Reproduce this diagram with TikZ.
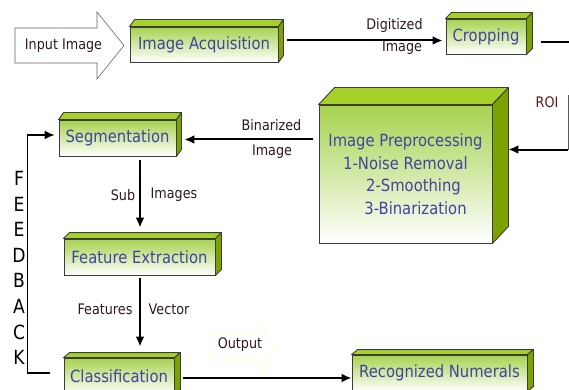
\documentclass[tikz,border=0pt]{standalone}
\usepackage{fontspec}
\setmainfont{DejaVu Sans}[FakeStretch=0.88]
\usetikzlibrary{arrows.meta,calc}

\definecolor{frontgreen}{RGB}{166,210,78}
\definecolor{topgreen}{RGB}{166,209,43}
\definecolor{sidegreen}{RGB}{122,162,0}
\definecolor{edgegray}{RGB}{60,60,60}
\definecolor{boxtext}{RGB}{66,66,160}
\definecolor{labeltext}{RGB}{45,25,30}
\definecolor{roitext}{RGB}{95,25,25}
\definecolor{pale}{RGB}{255,255,200}

\tikzset{
  box3d/.style={draw=edgegray, line width=0.9pt, top color=frontgreen, bottom color=white,
    text=boxtext, font=\fontsize{16.8}{20}\selectfont, inner sep=0pt},
  topface/.style={fill=topgreen, draw=edgegray, line width=0.9pt, line join=round},
  sideface/.style={fill=sidegreen, draw=edgegray, line width=0.9pt, line join=round},
  flow/.style={draw=black, line width=2pt, -{Latex[length=10pt,width=9pt]}},
  fb/.style={draw=black, line width=1.5pt, -{Latex[length=10pt,width=9pt]}},
  lbl/.style={text=labeltext, font=\fontsize{14.5}{17}\selectfont, inner sep=0pt},
  bigarrow/.style={fill=white, line width=0.6pt},
}

% top and right faces of a block node: #1 node, #2 depth to the right, #3 depth upwards
\newcommand\cubefaces[3]{%
  \draw[topface] (#1.north west) -- ++(#2,-#3) -- ($(#1.north east)+(#2,-#3)$) -- (#1.north east) -- cycle;
  \draw[sideface] (#1.north east) -- ++(#2,-#3) -- ($(#1.south east)+(#2,-#3)$) -- (#1.south east) -- cycle;
}

\begin{document}
\begin{tikzpicture}[x=1pt, y=-1pt]
\useasboundingbox (0,0) rectangle (569,390);
\clip (0,0) rectangle (569,390);
\fill[white] (0,0) rectangle (569,390);

% input arrow
\draw[bigarrow, draw=gray!80!black] (15,28) -- (97,28) -- (97,12) -- (124,45.5) -- (97,79) -- (97,63) -- (15,63) -- cycle;
\node[lbl] (inp) at (63.5,45.5) {Input Image};

% output arrow
\draw[bigarrow, draw=pale] (210,334) -- (260,334) -- (260,322) -- (276,347) -- (260,372) -- (260,360) -- (210,360) -- cycle;
\node[lbl] (outp) at (240,345) {Output};

% processing blocks
\node[box3d, minimum width=148pt, minimum height=35pt] (acq) at (204,44.5) {Image Acquisition};
\node[box3d, minimum width=80pt, minimum height=35pt] (crop) at (486,36.5) {Cropping};
\node[box3d, minimum width=173pt, minimum height=138pt, align=center,
      font=\fontsize{16.8}{22.5}\selectfont] (prep) at (405.5,174)
  {Image Preprocessing\\1-Noise Removal\\\hspace*{16pt}2-Smoothing\\\hspace*{20pt}3-Binarization};
\node[box3d, minimum width=117pt, minimum height=36pt] (seg) at (117.5,138) {Segmentation};
\node[box3d, minimum width=151pt, minimum height=36pt] (feat) at (139.5,257) {Feature Extraction};
\node[box3d, minimum width=110pt, minimum height=36pt] (cls) at (119,376) {Classification};
\node[box3d, minimum width=175pt, minimum height=36pt] (rec) at (439.5,373) {Recognized Numerals};

\cubefaces{acq}{5}{7}
\cubefaces{crop}{6}{6}
\cubefaces{prep}{16}{17}
\cubefaces{seg}{5}{7}
\cubefaces{feat}{6}{6}
\cubefaces{cls}{6}{5}
\cubefaces{rec}{6}{5}

% connectors
\draw[flow] ([xshift=9pt,yshift=4pt]acq.east) -- ([xshift=-3pt,yshift=-4pt]crop.west);
\node[lbl] (dig) at (394.5,26) {Digitized};
\node[lbl] (digimg) at (402,47.5) {Image};

\coordinate (cropout) at (569,42);
\draw[line width=2pt] ([xshift=15pt,yshift=-5.5pt]crop.east) -- (cropout);

\coordinate (roitop) at (568,95);
\coordinate (roibend) at (568,149.5);
\draw[line width=0.8pt, draw=gray!70!black] (roitop) -- (roibend);
\draw[flow] (roibend) -- ([xshift=16pt,yshift=24.5pt]prep.east);
\node[lbl, text=roitext] (roi) at (547,102) {ROI};

\draw[flow] ([xshift=-6pt,yshift=34.5pt]prep.west) -- ([xshift=8pt,yshift=-1.5pt]seg.east);
\node[lbl] (bin) at (271.5,125) {Binarized};
\node[lbl] (binimg) at (272,152) {Image};

\draw[flow] ([xshift=22.5pt,yshift=-4pt]seg.south) -- ([xshift=0.5pt,yshift=11pt]feat.north);
\node[lbl] (sub) at (123,195) {Sub};
\node[lbl] (subimg) at (174,195) {Images};

\draw[flow] ([xshift=0.5pt,yshift=-3pt]feat.south) -- ([xshift=21pt,yshift=11pt]cls.north);
\node[lbl] (fvec1) at (105,309) {Features};
\node[lbl] (fvec2) at (169,309) {Vector};

\draw[flow] ([xshift=9pt,yshift=-2pt]cls.east) -- ([yshift=-5pt]rec.west);

% feedback loop
\draw[fb] ([xshift=-14pt,yshift=3pt]cls.west) -- ++(-22,0) |- ([xshift=-4pt,yshift=3pt]seg.west);
\node[align=center, inner sep=0pt, font=\fontsize{19.5}{25.6}\selectfont] (fbtext) at (19,268)
  {F\\E\\E\\D\\B\\A\\C\\K};
\end{tikzpicture}
\end{document}
